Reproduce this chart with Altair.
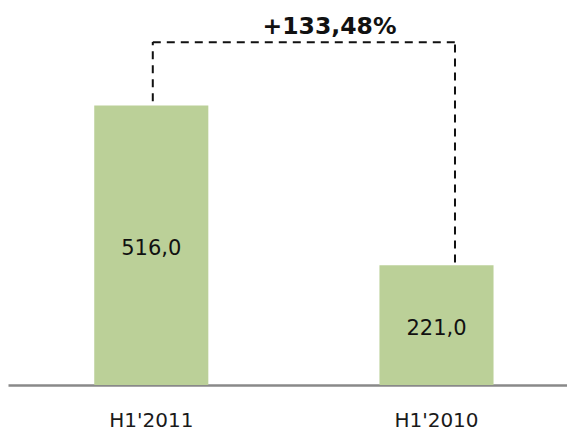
import altair as alt
import pandas as pd

categories = ["H1'2011", "H1'2010"]
values = [516.0, 221.0]
change_label = "+133,48%"

bars_df = pd.DataFrame({"cat": categories, "value": values})

# bracket geometry in data units
bracket_top = 633
left_bottom = 524
right_bottom = 226

Y_DOMAIN = [0, 696]
H = 377
W = 559

x_scale = alt.Scale(domain=categories, paddingInner=0.6, paddingOuter=0.28, align=0.54)
y_scale = alt.Scale(domain=Y_DOMAIN, nice=False, zero=True)

x_enc = alt.X("cat:N", scale=x_scale,
              axis=alt.Axis(title=None, ticks=False, tickSize=0, domain=True, domainColor="#898989",
                            domainWidth=2.5, labelFont="DejaVu Sans", labelFontSize=20,
                            labelColor="#1a1a1a", labelPadding=41, labelBaseline="alphabetic",
                            labelAngle=0))

base = alt.Chart(bars_df)

bars = base.mark_bar(color="#bbd098").encode(
    x=x_enc,
    y=alt.Y("value:Q", scale=y_scale, axis=None),
)

vals = base.transform_calculate(
    mid="datum.value / 2",
    lbl="replace(format(datum.value, '.1f'), '.', ',')",
).mark_text(font="DejaVu Sans", fontSize=21, color="#111111", baseline="middle", dy=4).encode(
    x=alt.X("cat:N", scale=x_scale),
    y=alt.Y("mid:Q", scale=y_scale),
    text="lbl:N",
)

left_df = pd.DataFrame({"cat": [categories[0]], "y1": [left_bottom], "y2": [bracket_top]})
right_df = pd.DataFrame({"cat": [categories[1]], "y1": [right_bottom], "y2": [bracket_top]})
top_df = pd.DataFrame({"a": [categories[0]], "b": [categories[1]], "y": [bracket_top]})

dash = [8, 6]
sw = 2
left_rule = alt.Chart(left_df).mark_rule(color="#111111", strokeDash=dash, strokeWidth=sw, xOffset=1.5).encode(
    x=alt.X("cat:N", scale=x_scale), y=alt.Y("y1:Q", scale=y_scale), y2="y2:Q")
right_rule = alt.Chart(right_df).mark_rule(color="#111111", strokeDash=dash, strokeWidth=sw, xOffset=18.5).encode(
    x=alt.X("cat:N", scale=x_scale), y=alt.Y("y1:Q", scale=y_scale), y2="y2:Q")
top_rule = alt.Chart(top_df).mark_rule(color="#111111", strokeDash=dash, strokeWidth=sw, xOffset=1.5, x2Offset=18.5).encode(
    x=alt.X("a:N", scale=x_scale), x2="b:N", y=alt.Y("y:Q", scale=y_scale))

lab_df = pd.DataFrame({"cat": [categories[1]], "y": [bracket_top], "t": [change_label]})
change = alt.Chart(lab_df).mark_text(font="DejaVu Sans", fontWeight="bold", fontSize=23.5,
                                     color="#111111", baseline="alphabetic", dx=-107, dy=-8).encode(
    x=alt.X("cat:N", scale=x_scale), y=alt.Y("y:Q", scale=y_scale), text="t:N")

chart = alt.layer(bars, vals, left_rule, right_rule, top_rule, change).properties(
    width=W, height=H,
    autosize=alt.AutoSizeParams(type="none"),
    padding={"left": 0, "top": 0, "right": 0, "bottom": 48},
).configure_view(stroke=None)

chart.save("out.html", embed_options={"renderer": "svg", "actions": False})
